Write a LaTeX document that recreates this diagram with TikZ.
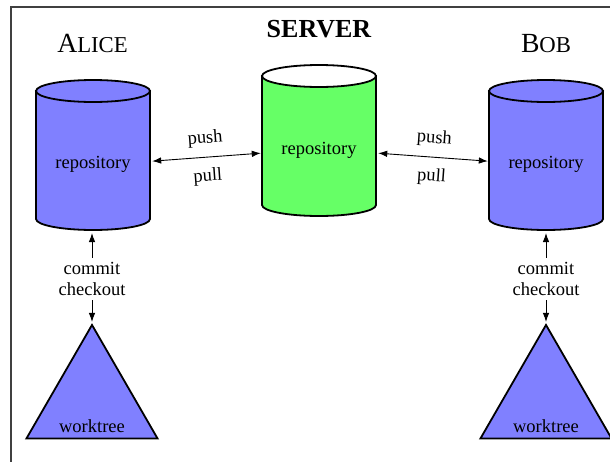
\documentclass[tikz,border=0pt]{standalone}
\usepackage{fontspec}
\setmainfont{Liberation Serif}
\usetikzlibrary{shapes.geometric,arrows.meta,calc}
\definecolor{bluefill}{RGB}{128,128,255}
\definecolor{greenfill}{RGB}{102,255,102}
\newcommand\drawcyl[5]{% #1 x, #2 top y, #3 bottom y, #4 body fill, #5 top fill
  \filldraw[cylline, fill=#4] (#1-57,#2) -- (#1-57,#3)
    arc[start angle=180,end angle=360,x radius=57,y radius=11] -- (#1+57,#2) -- cycle;
  \filldraw[cylline, fill=#5] (#1,#2) ellipse[x radius=57,y radius=11];
}
\begin{document}
\begin{tikzpicture}[x=1pt,y=1pt,
  lbl/.style={font=\fontsize{18.5}{20.5}\selectfont, inner sep=0pt},
  repo/.style={lbl, minimum width=114pt, anchor=base},
  cylline/.style={line width=1.8pt, draw=black},
  tip/.style={Latex[length=9pt,width=6.5pt]},
  conn/.style={line width=0.9pt, {Latex[length=9pt,width=6.5pt]}-{Latex[length=9pt,width=6.5pt]}},
  arr/.style={line width=0.9pt, -{Latex[length=9pt,width=6.5pt]}},
  tri/.style={draw, line width=1.8pt, fill=bluefill, regular polygon, regular polygon sides=3,
              minimum size=151.3pt, inner sep=0pt, outer sep=0pt},
  ops/.style={lbl, align=center, inner sep=4.5pt},
  head/.style={anchor=base, inner sep=0pt}
]
\useasboundingbox (0,0) rectangle (610,-461);
% frame
\draw[line width=1.2pt, black!75] (620,-7) -- (11,-7) -- (11,-470);

% headers
\node[head] (alicehd) at (92.5,-52) {\fontsize{27.7}{30}\selectfont A\fontsize{22.7}{25}\selectfont LICE};
\node[head] (bobhd) at (546,-52) {\fontsize{27.7}{30}\selectfont B\fontsize{22.7}{25}\selectfont OB};
\node[head] (srvhd) at (319,-37) {\fontsize{26}{28}\selectfont\bfseries SERVER};

% cylinders
\drawcyl{93}{-91}{-219}{bluefill}{bluefill}
\drawcyl{319}{-76}{-205}{greenfill}{white}
\drawcyl{546}{-91}{-219}{bluefill}{bluefill}

\node[repo] (alice) at (93,-168) {repository};
\node[repo] (server) at (319,-154) {repository};
\node[repo] (bob) at (546,-168) {repository};

% push / pull
\draw[conn] ([shift={(2,2.7)}]alice.east) -- ([shift={(-1,-3.3)}]server.west)
  node[midway, sloped, lbl, anchor=base, yshift=14pt] {push}
  node[midway, sloped, lbl, anchor=base, yshift=-24pt] {pull};
\draw[conn] ([shift={(2,-3.3)}]server.east) -- ([shift={(-1,2.7)}]bob.west)
  node[midway, sloped, lbl, anchor=base, yshift=14pt] {push}
  node[midway, sloped, lbl, anchor=base, yshift=-24pt] {pull};

% worktrees
\node[tri] (atree) at (92,-400.6) {};
\node[tri] (btree) at (546,-400.6) {};
\node[lbl, anchor=base] (awt) at (92,-432) {worktree};
\node[lbl, anchor=base] (bwt) at (546,-432) {worktree};

% commit / checkout
\node[ops] (acom) at (92,-279) {commit\\checkout};
\node[ops] (bcom) at (546,-279) {commit\\checkout};
\coordinate (abase) at (92,-233);
\coordinate (bbase) at (546,-233);
\draw[arr] (acom.north) -- (abase);
\draw[arr] (bcom.north) -- (bbase);
\draw[arr, shorten >=3pt] (acom.south) -- (atree.north);
\draw[arr, shorten >=3pt] (bcom.south) -- (btree.north);
\end{tikzpicture}
\end{document}
